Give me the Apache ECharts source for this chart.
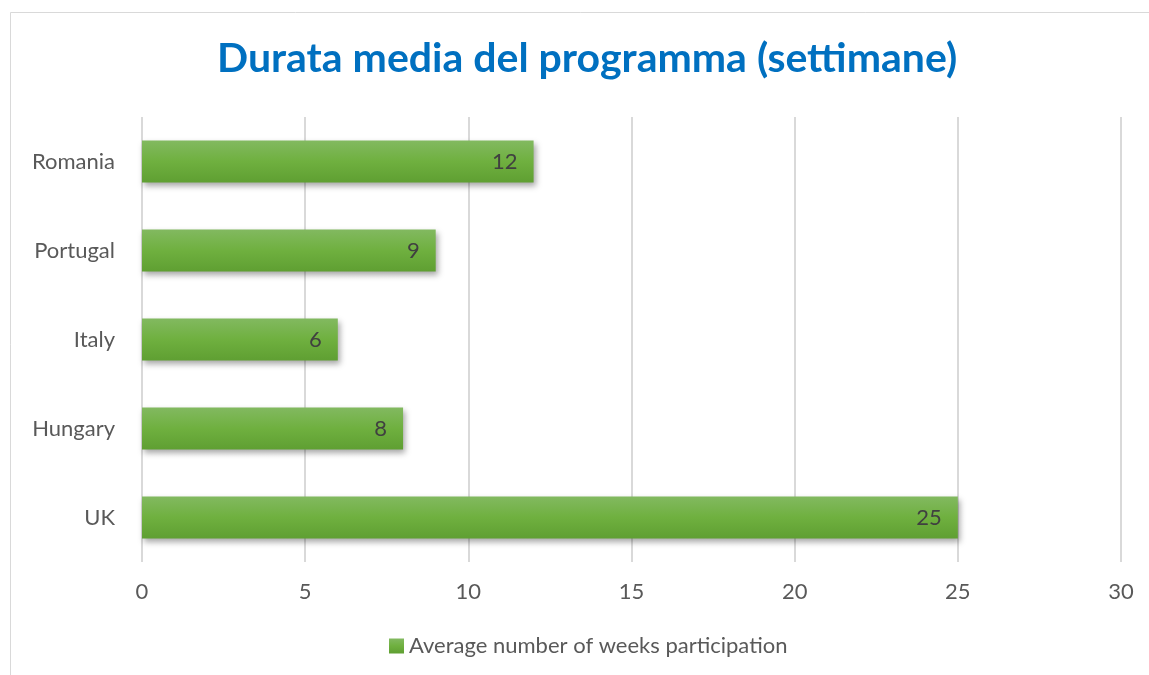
<!DOCTYPE html>
<html>
<head>
<meta charset="utf-8">
<script src="https://cdn.jsdelivr.net/npm/echarts@6/dist/echarts.min.js"></script>
<style>
  html, body { margin: 0; padding: 0; background: #fff; }
  #chart { width: 1149px; height: 675px; }
</style>
</head>
<body>
<div id="chart"></div>
<script>
// dati del grafico
var countries = ['UK', 'Hungary', 'Italy', 'Portugal', 'Romania'];
var weeks = [25, 8, 6, 9, 12];
var xTicks = [0, 5, 10, 15, 20, 25, 30];
var seriesName = 'Average number of weeks participation';

var myChart = echarts.init(document.getElementById('chart'));

var barColor = new echarts.graphic.LinearGradient(0, 0, 0, 1, [{
	offset: 0,
	color: '#82b960'
}, {
	offset: 0.5,
	color: '#6fb03f'
}, {
	offset: 1,
	color: '#5f9f32'
}]);

var option = {
	backgroundColor: '#fff',
	title: {
		text: 'Durata media del programma (settimane)',
		left: 212,
		top: 33,
		textStyle: {
			fontFamily: 'Lato',
			fontWeight: 'bold',
			fontSize: 41,
			color: '#0070c0'
		}
	},
	// bordo esterno
	graphic: [{
		type: 'rect',
		shape: { x: 10.5, y: 12.5, width: 1300, height: 800 },
		style: { fill: 'none', stroke: '#d9d9d9', lineWidth: 1 },
		silent: true
	}],
	legend: {
		bottom: 13,
		left: 384,
		itemWidth: 15,
		itemHeight: 15,
		itemGap: 6,
		icon: 'rect',
		textStyle: {
			fontFamily: 'Lato',
			fontSize: 22,
			color: '#595959'
		},
		data: [seriesName]
	},
	grid: {
		left: 142,
		right: 28,
		top: 117,
		bottom: 113,
		containLabel: false
	},
	xAxis: {
		type: 'value',
		min: xTicks[0],
		max: xTicks[xTicks.length - 1],
		interval: 5,
		axisLine: { show: false },
		axisTick: { show: false },
		axisLabel: {
			margin: 19,
			fontFamily: 'Lato',
			fontSize: 22,
			color: '#595959'
		},
		splitLine: {
			show: true,
			lineStyle: { color: '#d9d9d9', width: 2 }
		}
	},
	yAxis: {
		type: 'category',
		data: countries,
		axisLine: { show: false },
		axisTick: { show: false },
		axisLabel: {
			margin: 27,
			fontFamily: 'Lato',
			fontSize: 22,
			color: '#595959'
		}
	},
	series: [{
		name: seriesName,
		type: 'bar',
		data: weeks,
		barWidth: 42,
		itemStyle: {
			color: barColor,
			shadowColor: 'rgba(0,0,0,0.35)',
			shadowBlur: 6,
			shadowOffsetX: 2,
			shadowOffsetY: 3
		},
		label: {
			show: true,
			position: 'insideRight',
			distance: 16,
			fontFamily: 'Lato',
			fontSize: 22,
			color: '#404040'
		}
	}]
};

myChart.setOption(option);
</script>
</body>
</html>
